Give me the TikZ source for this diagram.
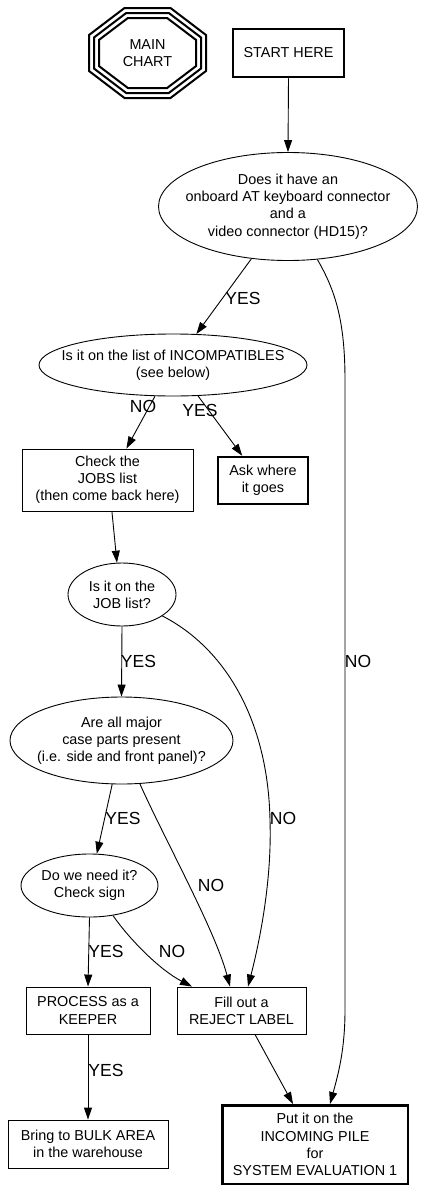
\documentclass[tikz,border=0pt]{standalone}
\usepackage{fontspec}
\setmainfont{Liberation Sans}
\usetikzlibrary{shapes.geometric,arrows.meta}

\newcommand{\nodefont}{\fontsize{14.4}{17.2}\selectfont}
\newcommand{\edgefont}{\fontsize{17.5}{20}\selectfont}

\tikzset{
  flow/.style={-{Triangle[length=12pt,width=8pt]}, line width=0.9pt},
  stepbox/.style={rectangle, draw, line width=0.9pt, inner sep=0pt, align=center, font=\nodefont},
  boldbox/.style={stepbox, line width=2.5pt},
  question/.style={ellipse, draw, line width=0.9pt, inner sep=0pt},
  qtext/.style={align=center, font=\nodefont, inner sep=0pt},
  edgelabel/.style={font=\edgefont, inner sep=0pt},
  octline/.style={line width=2pt},
}

\begin{document}
\begin{tikzpicture}[x=1pt,y=-1pt]
  \useasboundingbox (0,0) rectangle (427,1191);

  % main chart marker (triple octagon)
  \node[qtext] (mc) at (147.5,53) {MAIN\\CHART};
  \foreach \d in {0,5,10}{
    \pgfmathsetmacro{\hw}{58.5-\d}
    \pgfmathsetmacro{\hh}{45-\d}
    \pgfmathsetmacro{\tx}{23-0.34*\d}
    \pgfmathsetmacro{\sy}{18-0.49*\d}
    \draw[octline, shift={(mc.center)}] (-\tx,-\hh) -- (\tx,-\hh) -- (\hw,-\sy) -- (\hw,\sy)
      -- (\tx,\hh) -- (-\tx,\hh) -- (-\hw,\sy) -- (-\hw,-\sy) -- cycle;
  }

  % nodes
  \node[boldbox, minimum width=111pt, minimum height=48pt] (start) at (288.5,53) {START HERE};
  \node[question, minimum width=259pt, minimum height=108pt,
    label={[qtext]center:{Does it have an\\onboard AT keyboard connector\\and a\\video connector (HD15)?}}] (kbd) at (288,206.5) {};
  \node[question, minimum width=268pt, minimum height=62pt,
    label={[qtext]center:{Is it on the list of INCOMPATIBLES\\(see below)}}] (inc) at (173,365) {};
  \node[stepbox, minimum width=171pt, minimum height=62pt] (check) at (107.5,480) {Check the\\JOBS list\\(then come back here)};
  \node[boldbox, minimum width=90pt, minimum height=47pt] (ask) at (263,480.5) {Ask where\\it goes};
  \node[question, minimum width=108pt, minimum height=63pt,
    label={[qtext]center:{Is it on the\\JOB list?}}] (job) at (122,594.5) {};
  \node[question, minimum width=223pt, minimum height=87pt,
    label={[qtext]center:{Are all major\\case parts present\\(i.e. side and front panel)?}}] (parts) at (121.5,740.5) {};
  \node[question, minimum width=137pt, minimum height=63pt,
    label={[qtext]center:{Do we need it?\\Check sign}}] (need) at (89.5,885.5) {};
  \node[stepbox, minimum width=124pt, minimum height=47pt] (process) at (88,1010.5) {PROCESS as a\\KEEPER};
  \node[stepbox, minimum width=129pt, minimum height=47pt] (reject) at (241.5,1010.5) {Fill out a\\REJECT LABEL};
  \node[stepbox, minimum width=160pt, minimum height=48pt] (bulk) at (88,1144) {Bring to BULK AREA\\in the warehouse};
  \node[boldbox, minimum width=185.5pt, minimum height=78.5pt] (pile) at (315,1144.5) {Put it on the\\INCOMING PILE\\for\\SYSTEM EVALUATION 1};

  % connectors
  \draw[flow] (start.south) -- (kbd.north);
  \draw[flow] (kbd.235) -- (inc.53);
  \draw[flow] (kbd.299) .. controls (335,290) and (345,320) .. (345,380)
    -- (345,1010) .. controls (345,1050) and (338,1075) .. ([xshift=15pt]pile.north);
  \draw[flow] (inc.240) -- (check.59);
  \draw[flow] (inc.309) -- (ask.130);
  \draw[flow] (check.278) -- (job.99);
  \draw[flow] (job.south) -- (parts.north);
  \draw[flow] (job.332) .. controls (225,648) and (268,720) .. (270,820)
    .. controls (272,880) and (260,940) .. ([xshift=6.5pt]reject.north);
  \draw[flow] (parts.258) -- (need.77);
  \draw[flow] (parts.293) .. controls (165,840) and (215,930) .. ([xshift=-11.5pt]reject.north);
  \draw[flow] (need.south) -- (process.north);
  \draw[flow] (need.308) .. controls (130,940) and (160,970) .. ([xshift=-49.5pt]reject.north);
  \draw[flow] (process.south) -- (bulk.north);
  \draw[flow] ([xshift=13.5pt]reject.south) -- ([xshift=-22pt]pile.north);

  % edge labels
  \node[edgelabel] (yeskbd) at (243,298) {YES};
  \node[edgelabel] (nokbd) at (358,661) {NO};
  \node[edgelabel] (noinc) at (143,406) {NO};
  \node[edgelabel] (yesinc) at (200,410) {YES};
  \node[edgelabel] (yesjob) at (138.5,661) {YES};
  \node[edgelabel] (nojob) at (283,818) {NO};
  \node[edgelabel] (yesparts) at (123,818) {YES};
  \node[edgelabel] (noparts) at (211,885) {NO};
  \node[edgelabel] (yesneed) at (106,951) {YES};
  \node[edgelabel] (noneed) at (172,951) {NO};
  \node[edgelabel] (yesproc) at (106,1070) {YES};
\end{tikzpicture}
\end{document}
